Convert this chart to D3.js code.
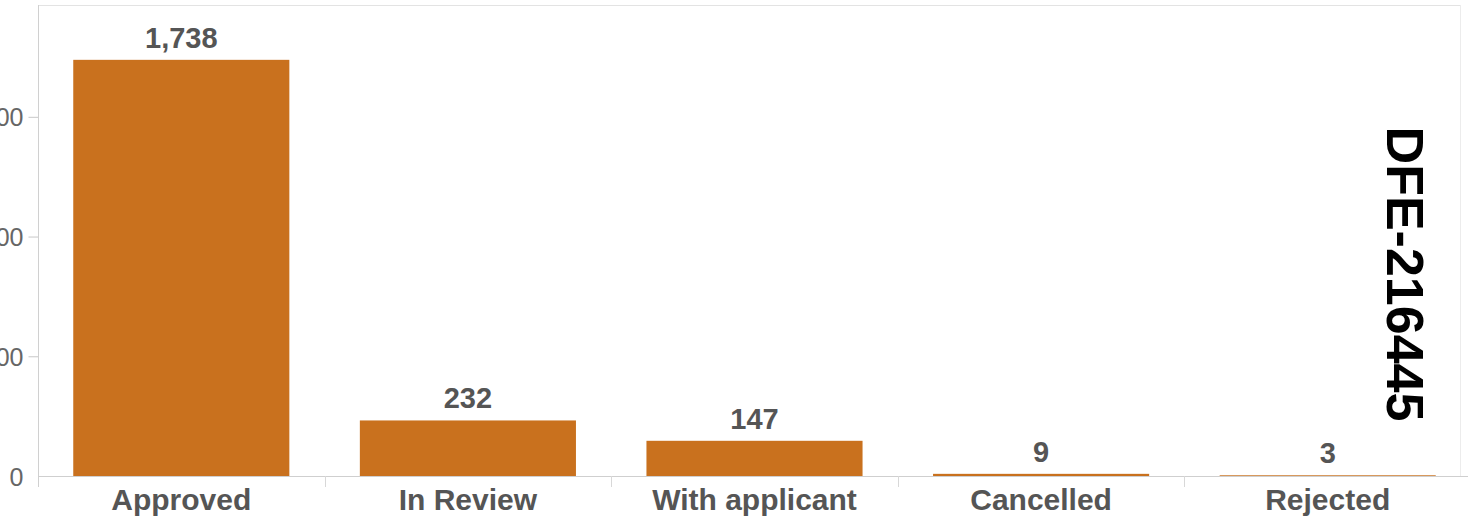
<!DOCTYPE html>
<html>
<head>
<meta charset="utf-8">
<script src="https://cdn.jsdelivr.net/npm/d3@7"></script>
<style>
  body { margin: 0; background: #fff; }
  svg { display: block; font-family: "Liberation Sans", Arial, sans-serif; }
</style>
</head>
<body>
<svg id="chart" width="1468" height="518"></svg>
<script>
// data
var categories = ["Approved", "In Review", "With applicant", "Cancelled", "Rejected"];
var counts = [1738, 232, 147, 9, 3];
var yTicks = [0, 500, 1000, 1500];
var sideTitle = "DFE-216445";

var svg = d3.select("#chart");
// note: "top" is taken by window.top, so use plotTop
var plotLeft = 38, plotRight = 1471, plotTop = 5, plotBase = 476;

var x = d3.scaleBand()
    .domain(categories)
    .range([plotLeft, plotRight])
    .paddingInner(0.246)
    .paddingOuter(0.123);

var y = d3.scaleLinear()
    .domain([0, 1967])
    .range([plotBase, plotTop]);

var fmt = d3.format(",");

// frame lines (top + right)
svg.append("line")
    .attr("x1", plotLeft).attr("x2", 1460)
    .attr("y1", plotTop + 0.5).attr("y2", plotTop + 0.5)
    .attr("stroke", "#e3e3e3");
svg.append("line")
    .attr("x1", 1460.5).attr("x2", 1460.5)
    .attr("y1", plotTop).attr("y2", plotBase)
    .attr("stroke", "#ececec");

// y axis
var yAxis = d3.axisLeft(y)
    .tickValues(yTicks)
    .tickSize(10)
    .tickPadding(5)
    .tickFormat(d3.format("d"));

var gy = svg.append("g")
    .attr("transform", "translate(" + (plotLeft + 0.5) + ",0)")
    .call(yAxis);
gy.select(".domain").remove();
gy.selectAll(".tick line").attr("stroke", "#c8c8c8")
    .attr("x2", function(d) { return d === 0 ? 0 : -10; });
gy.selectAll(".tick text")
    .attr("font-size", 25)
    .attr("font-family", "Liberation Sans, Arial, sans-serif")
    .attr("fill", "#666")
    .attr("dy", "0.36em");

svg.append("line")
    .attr("x1", plotLeft + 0.5).attr("x2", plotLeft + 0.5)
    .attr("y1", plotTop).attr("y2", plotBase + 11)
    .attr("stroke", "#d0d0d0");

// bars
svg.selectAll("rect.bar")
    .data(counts)
    .join("rect")
    .attr("class", "bar")
    .attr("x", function(d, i) { return x(categories[i]); })
    .attr("width", x.bandwidth())
    .attr("y", function(d) { return y(d); })
    .attr("height", function(d) { return plotBase - y(d); })
    .attr("fill", "#c9711e");

// x axis baseline + ticks between bands
svg.append("line")
    .attr("x1", plotLeft).attr("x2", 1468)
    .attr("y1", plotBase + 0.5).attr("y2", plotBase + 0.5)
    .attr("stroke", "#cfcfcf");

var step = x.step();
var bounds = categories.map(function(c) { return x(c) - x.paddingInner() * step / 2; }).slice(1);
svg.selectAll("line.xtick")
    .data(bounds)
    .join("line")
    .attr("class", "xtick")
    .attr("x1", function(d) { return Math.round(d) + 0.5; })
    .attr("x2", function(d) { return Math.round(d) + 0.5; })
    .attr("y1", plotBase).attr("y2", plotBase + 11)
    .attr("stroke", "#d8d8d8");

// category labels
svg.selectAll("text.cat")
    .data(categories)
    .join("text")
    .attr("class", "cat")
    .attr("x", function(d) { return x(d) + x.bandwidth() / 2; })
    .attr("y", 510)
    .attr("text-anchor", "middle")
    .attr("font-size", 30)
    .attr("font-weight", "bold")
    .attr("fill", "#555")
    .text(function(d) { return d; });

// value labels
svg.selectAll("text.val")
    .data(counts)
    .join("text")
    .attr("class", "val")
    .attr("x", function(d, i) { return x(categories[i]) + x.bandwidth() / 2; })
    .attr("y", function(d) { return y(d) - 12; })
    .attr("text-anchor", "middle")
    .attr("font-size", 29)
    .attr("font-weight", "bold")
    .attr("fill", "#555")
    .text(function(d) { return fmt(d); });

// rotated side title
svg.append("text")
    .attr("transform", "translate(1387,274) rotate(90)")
    .attr("text-anchor", "middle")
    .attr("font-size", 52)
    .attr("font-weight", "bold")
    .attr("fill", "#000")
    .text(sideTitle);
</script>
</body>
</html>
